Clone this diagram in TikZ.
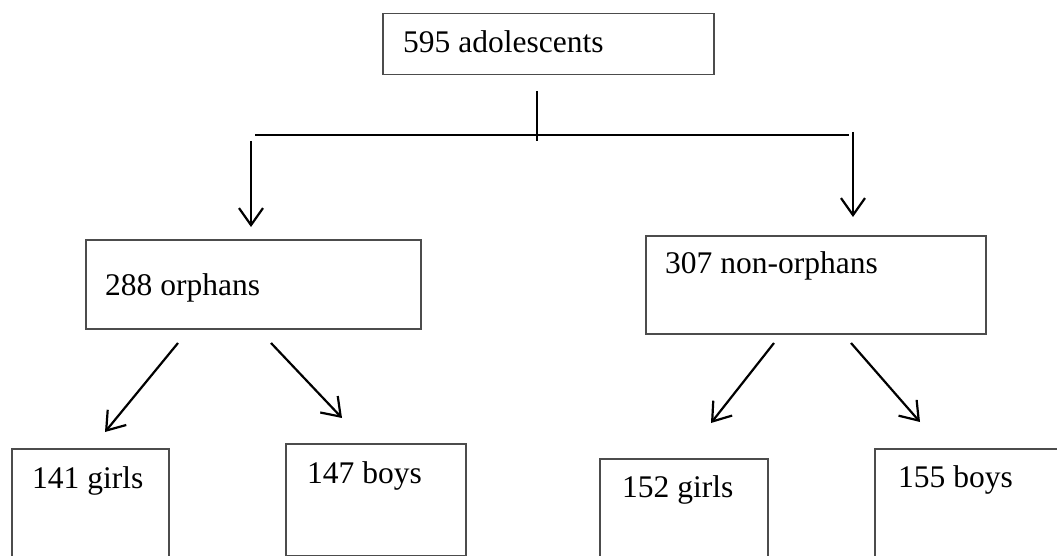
\documentclass[tikz,border=0pt]{standalone}
\usepackage{fontspec}
\setmainfont{Liberation Serif}
\usetikzlibrary{arrows.meta}
\begin{document}
\begin{tikzpicture}[x=1pt,y=-1pt,
  box/.style={draw=black!70,line width=1.5pt,inner sep=0pt,anchor=north west},
  lbl/.style={anchor=base west,inner sep=0pt,font=\fontsize{31.5}{36}\selectfont},
  link/.style={draw=black,line width=2.2pt},
  arr/.style={link,-{Straight Barb[length=17pt,width=24pt]}}]
\useasboundingbox (0,0) rectangle (1057,556);
\clip (0,0) rectangle (1057,556);
\fill[white] (0,0) rectangle (1057,556);

% boxes
\node[box,minimum width=331pt,minimum height=61pt] (top) at (382,13) {};
\node[box,minimum width=335pt,minimum height=89pt] (orph) at (85,239) {};
\node[box,minimum width=340pt,minimum height=98pt] (non) at (645,235) {};
\node[box,minimum width=157pt,minimum height=160pt] (og) at (11,448) {};
\node[box,minimum width=180pt,minimum height=112pt] (ob) at (285,443) {};
\node[box,minimum width=168pt,minimum height=150pt] (ng) at (599,458) {};
\node[box,minimum width=240pt,minimum height=160pt] (nb) at (874,448) {};

% labels
\node[lbl] (ttop) at (403,53) {595 adolescents};
\node[lbl] (torph) at (105,295) {288 orphans};
\node[lbl] (tnon) at (665,273) {307 non-orphans};
\node[lbl] (tog) at (32,488) {141 girls};
\node[lbl] (tob) at (307,483) {147 boys};
\node[lbl] (tng) at (622,497) {152 girls};
\node[lbl] (tnb) at (898,487) {155 boys};

% connector end points
\coordinate (s0) at (537,91);
\coordinate (s1) at (537,141);
\coordinate (hl) at (255,135);
\coordinate (hr) at (849,135);
\coordinate (la) at (251,141);
\coordinate (lb) at (251,227);
\coordinate (ra) at (853,132);
\coordinate (rb) at (853,217);
\coordinate (a1) at (178,343);
\coordinate (b1) at (105,432);
\coordinate (a2) at (271,343);
\coordinate (b2) at (342,418);
\coordinate (a3) at (774,343);
\coordinate (b3) at (711,423);
\coordinate (a4) at (851,343);
\coordinate (b4) at (920,422);

% split from the total sample
\draw[link] (s0) -- (s1);
\draw[link] (hl) -- (hr);
\draw[arr] (la) -- (lb);
\draw[arr] (ra) -- (rb);

% split by sex
\draw[arr] (a1) -- (b1);
\draw[arr] (a2) -- (b2);
\draw[arr] (a3) -- (b3);
\draw[arr] (a4) -- (b4);
\end{tikzpicture}
\end{document}
